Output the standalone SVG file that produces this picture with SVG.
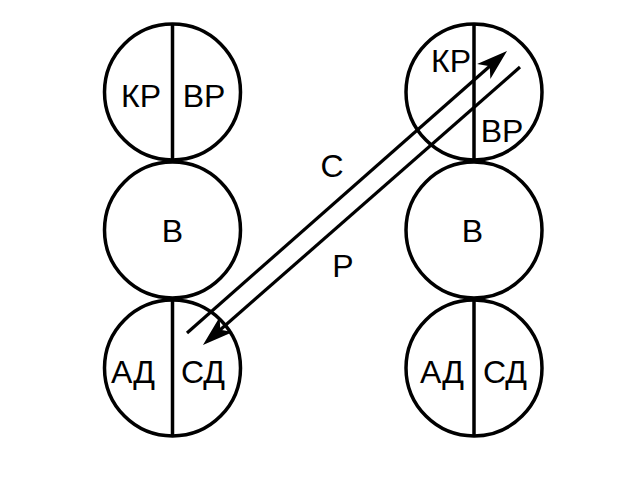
<svg xmlns="http://www.w3.org/2000/svg" width="620" height="480" viewBox="0 0 620 480">
<style>
.c{fill:none;stroke:#000;stroke-width:3.5}
.d{stroke:#000;stroke-width:3.5}
.a{stroke:#000;stroke-width:3.2;fill:none}
text{font-family:"Liberation Sans",Arial,sans-serif;font-size:32px;fill:#000;text-anchor:middle}
</style>
<defs>
<marker id="ah" markerUnits="userSpaceOnUse" markerWidth="40" markerHeight="24" refX="0" refY="0" orient="auto" overflow="visible">
<path d="M20,0 L-11,-10 L-3,0 L-11,10 Z" fill="#000"/>
</marker>
</defs>
<rect width="620" height="480" fill="#fff"/>
<g id="n-l-top"><circle class="c" cx="172.5" cy="92" r="68"/><line class="d" x1="172.5" y1="24" x2="172.5" y2="160"/><text x="141" y="107">КР</text><text x="204" y="107">ВР</text></g>
<g id="n-l-mid"><circle class="c" cx="172.5" cy="230" r="68"/><text x="172.5" y="242">В</text></g>
<g id="n-l-bot"><circle class="c" cx="172.5" cy="368" r="68"/><line class="d" x1="172.5" y1="300" x2="172.5" y2="436"/><text x="133" y="383">АД</text><text x="203" y="383">СД</text></g>
<g id="n-r-top"><circle class="c" cx="474" cy="92" r="68"/><line class="d" x1="474" y1="24" x2="474" y2="160"/><text x="451" y="72">КР</text><text x="502" y="142">ВР</text></g>
<g id="n-r-mid"><circle class="c" cx="474" cy="230" r="68"/><text x="472.5" y="242">В</text></g>
<g id="n-r-bot"><circle class="c" cx="474" cy="368" r="68"/><line class="d" x1="474" y1="300" x2="474" y2="436"/><text x="442" y="383">АД</text><text x="505" y="383">СД</text></g>
<g id="connectors">
<line class="a" x1="187" y1="333" x2="492" y2="64.2" marker-end="url(#ah)"/>
<line class="a" x1="520" y1="67" x2="218" y2="331.8" marker-end="url(#ah)"/>
<text x="332" y="177">С</text>
<text x="343" y="277">Р</text>
</g>
</svg>
